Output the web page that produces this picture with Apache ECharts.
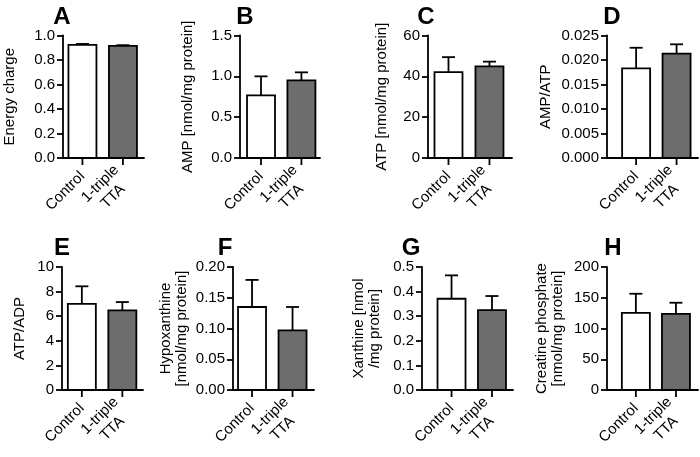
<!DOCTYPE html>
<html>
<head>
<meta charset="utf-8">
<script src="https://cdn.jsdelivr.net/npm/echarts@6/dist/echarts.min.js"></script>
<style>html,body{margin:0;padding:0;background:#fff}#chart{width:700px;height:457px}</style>
</head>
<body>
<div id="chart"></div>
<script>
// ---- data ----
const categories = ['Control', '1-triple\nTTA'];
const panelLetters = ['A', 'B', 'C', 'D', 'E', 'F', 'G', 'H'];
const yAxisNames = [
  'Energy charge',
  'AMP [nmol/mg protein]',
  'ATP [nmol/mg protein]',
  'AMP/ATP',
  'ATP/ADP',
  'Hypoxanthine\n[nmol/mg protein]',
  'Xanthine [nmol\n/mg protein]',
  'Creatine phosphate\n[nmol/mg protein]'
];
const yMax = [1.0, 1.5, 60, 0.025, 10, 0.20, 0.5, 200];
const yStep = [0.2, 0.5, 20, 0.005, 2, 0.05, 0.1, 50];
const yDecimals = [1, 1, 0, 3, 0, 2, 1, 0];

const energyCharge = [0.923, 0.915];
const energyChargeErr = [0.008, 0.006];
const ampLevel = [0.768, 0.951];
const ampLevelErr = [0.232, 0.098];
const atpLevel = [42.1, 44.9];
const atpLevelErr = [7.3, 2.3];
const ampAtpRatio = [0.0183, 0.0213];
const ampAtpRatioErr = [0.0042, 0.0019];
const atpAdpRatio = [7.01, 6.47];
const atpAdpRatioErr = [1.42, 0.68];
const hypoxanthine = [0.135, 0.097];
const hypoxanthineErr = [0.044, 0.038];
const xanthine = [0.371, 0.325];
const xanthineErr = [0.095, 0.057];
const creatinePhosphate = [125.5, 123.9];
const creatinePhosphateErr = [31, 18];

const panelMeans = [energyCharge, ampLevel, atpLevel, ampAtpRatio, atpAdpRatio, hypoxanthine, xanthine, creatinePhosphate];
const panelErrs = [energyChargeErr, ampLevelErr, atpLevelErr, ampAtpRatioErr, atpAdpRatioErr, hypoxanthineErr, xanthineErr, creatinePhosphateErr];

// ---- layout ----
const gridLeft = [63, 240, 428, 607, 62, 233, 422, 607];
const gridRight = [144, 320, 512, 698, 143, 314, 513, 698];
const xMinArr = [-0.48, -0.52, -0.5, -0.72, -0.49, -0.47, -0.73, -0.72];
const xMaxArr = [1.52, 1.46, 1.55, 1.53, 1.51, 1.53, 1.52, 1.55];
const rowTop = [35.5, 267];
const rowHeight = [122.5, 123];
const nameGaps = [45, 44, 38, 53, 34, 43, 39, 41];
const titleX = [57, 240, 421, 607, 57, 220, 406, 608];
const titleY = [0, 0, 0, 0, 231, 231, 231, 231];

const FONT = "'Liberation Sans', Arial, Helvetica, sans-serif";
const fills = ['#ffffff', '#6d6d6d'];

const chart = echarts.init(document.getElementById('chart'), null, {renderer: 'canvas'});

function renderItem(params, api) {
  const x = api.value(0), m = api.value(1), e = api.value(2);
  const base = api.coord([x, 0]);
  const top = api.coord([x, m]);
  const errTop = api.coord([x, m + e]);
  const bw = 28, cap = 13, tickLen = 7;
  const lw = 1.8;
  return {
    type: 'group',
    children: [
      {type: 'line', shape: {x1: base[0], y1: base[1], x2: base[0], y2: base[1] + tickLen},
       style: {stroke: '#000', lineWidth: lw}},
      {type: 'rect', shape: {x: base[0] - bw / 2, y: top[1], width: bw, height: base[1] - top[1]},
       style: {fill: fills[x], stroke: '#000', lineWidth: lw}},
      {type: 'line', shape: {x1: top[0], y1: top[1], x2: top[0], y2: errTop[1]},
       style: {stroke: '#000', lineWidth: lw}},
      {type: 'line', shape: {x1: top[0] - cap / 2, y1: errTop[1], x2: top[0] + cap / 2, y2: errTop[1]},
       style: {stroke: '#000', lineWidth: lw}}
    ]
  };
}

const grids = [], xAxes = [], yAxes = [], series = [], titles = [];
for (let i = 0; i < 8; i++) {
  const row = i < 4 ? 0 : 1;
  grids.push({left: gridLeft[i], width: gridRight[i] - gridLeft[i], top: rowTop[row], height: rowHeight[row], containLabel: false});
  xAxes.push({
    type: 'value', gridIndex: i, min: xMinArr[i], max: xMaxArr[i],
    splitLine: {show: false},
    axisLine: {show: true, onZero: false, lineStyle: {color: '#000', width: 1.8}},
    axisTick: {show: false},
    axisLabel: {
      show: true, customValues: [0, 1], rotate: 45, margin: 16,
      formatter: function (v) {
        const c = categories[Math.round(v)];
        return c.split('\n').map(s => '{a|' + s + '}').join('\n');
      },
      rich: {a: {fontSize: 15, fontFamily: FONT, color: '#000', align: 'center', lineHeight: 18}}
    }
  });
  const dec = yDecimals[i];
  yAxes.push({
    type: 'value', gridIndex: i, min: 0, max: yMax[i], interval: yStep[i],
    splitLine: {show: false},
    axisLine: {show: true, onZero: false, lineStyle: {color: '#000', width: 1.8}},
    axisTick: {show: true, length: 6, lineStyle: {color: '#000', width: 1.8}},
    axisLabel: {fontSize: 15, fontFamily: FONT, color: '#000', margin: 8,
      formatter: v => v.toFixed(dec)},
    name: yAxisNames[i], nameLocation: 'middle', nameRotate: 90, nameGap: nameGaps[i],
    nameTextStyle: {fontSize: 15, fontFamily: FONT, color: '#000', lineHeight: 16, align: 'center'}
  });
  const data = panelMeans[i].map((m, k) => [k, m, panelErrs[i][k]]);
  series.push({type: 'custom', xAxisIndex: i, yAxisIndex: i, renderItem: renderItem, data: data, clip: false,
    encode: {x: 0, y: [1]}});
  titles.push({text: panelLetters[i], left: titleX[i], top: titleY[i], textAlign: 'center',
    textStyle: {fontSize: 24, fontWeight: 'bold', fontFamily: FONT, color: '#000'}});
}

chart.setOption({
  animation: false,
  backgroundColor: '#fff',
  title: titles,
  grid: grids,
  xAxis: xAxes,
  yAxis: yAxes,
  series: series
});
</script>
</body>
</html>
